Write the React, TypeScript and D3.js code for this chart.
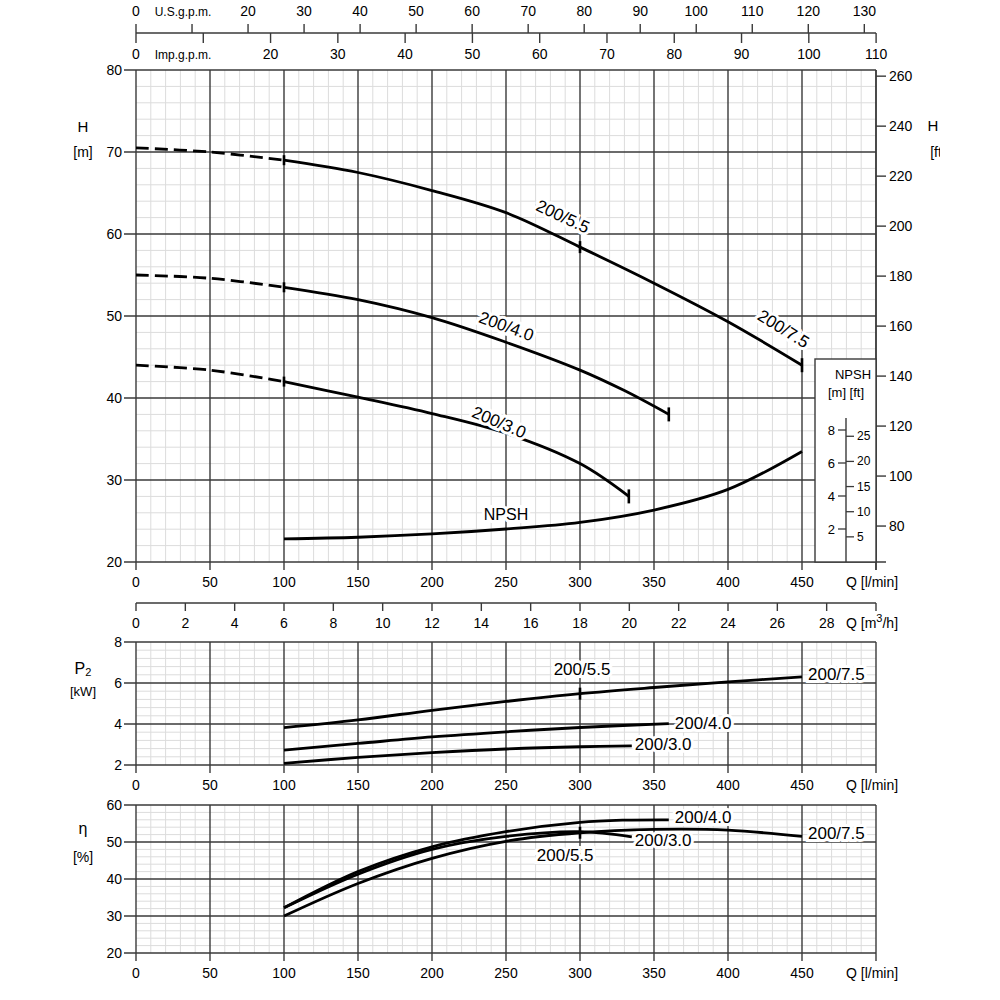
import React from "react";
import * as d3 from "d3";

// ---------- data ----------
const qTicks = [0, 50, 100, 150, 200, 250, 300, 350, 400, 450];
const usTicks = [0, 20, 30, 40, 50, 60, 70, 80, 90, 100, 110, 120, 130];
const impTicks = [0, 20, 30, 40, 50, 60, 70, 80, 90, 100, 110];
const m3hTicks = [0, 2, 4, 6, 8, 10, 12, 14, 16, 18, 20, 22, 24, 26, 28];
const hTicks = [20, 30, 40, 50, 60, 70, 80];
const ftTicks = [80, 100, 120, 140, 160, 180, 200, 220, 240, 260];
const npshMTicks = [2, 4, 6, 8];
const npshFtTicks = [5, 10, 15, 20, 25];
const p2Ticks = [2, 4, 6, 8];
const etaTicks = [20, 30, 40, 50, 60];

// Head curves (dashed part 0..100, solid part after)
const h55DashQ = [0, 50, 100];
const h55DashH = [70.5, 70.0, 69.0];
const h55Q = [100, 150, 200, 250, 300, 350, 400, 450];
const h55H = [69.0, 67.5, 65.3, 62.6, 58.4, 54.0, 49.3, 44.0];
const h40DashQ = [0, 50, 100];
const h40DashH = [55.0, 54.6, 53.5];
const h40Q = [100, 150, 200, 250, 300, 330, 360];
const h40H = [53.5, 52.0, 49.8, 46.8, 43.4, 40.9, 38.0];
const h30DashQ = [0, 50, 100];
const h30DashH = [44.0, 43.4, 42.0];
const h30Q = [100, 150, 200, 250, 300, 333];
const h30H = [42.0, 40.1, 38.1, 35.7, 32.0, 28.0];

// NPSH [m]
const npshQ = [100, 150, 200, 250, 300, 350, 400, 450];
const npshM = [1.4, 1.5, 1.7, 2.0, 2.4, 3.15, 4.4, 6.7];

// P2 [kW]
const p55Q = [100, 150, 200, 250, 300, 350, 400, 450];
const p55 = [3.82, 4.2, 4.67, 5.1, 5.48, 5.78, 6.05, 6.3];
const p40Q = [100, 150, 200, 250, 300, 360];
const p40 = [2.73, 3.05, 3.37, 3.62, 3.83, 4.02];
const p30Q = [100, 150, 200, 250, 300, 335];
const p30 = [2.08, 2.37, 2.6, 2.78, 2.89, 2.93];

// Efficiency [%]
const e55Q = [100, 150, 200, 250, 300, 350, 400, 450];
const e55 = [30, 38.8, 45.6, 50.2, 52.5, 53.4, 53.2, 51.5];
const e40Q = [100, 150, 200, 250, 300, 330, 360];
const e40 = [32.2, 42, 48.7, 52.8, 55.3, 55.9, 56];
const e30Q = [100, 150, 200, 250, 300, 335];
const e30 = [32.2, 41.3, 48, 51.5, 52.8, 51.4];

// ---------- scales ----------
const X0 = 136, X1 = 876;
const x = d3.scaleLinear().domain([0, 500]).range([X0, X1]);
const xUS = d3.scaleLinear().domain([0, 500 / 3.78541]).range([X0, X1]);
const xImp = d3.scaleLinear().domain([0, 500 / 4.54609]).range([X0, X1]);
const xM3 = d3.scaleLinear().domain([0, 30]).range([X0, X1]);
const yH = d3.scaleLinear().domain([20, 80]).range([562, 70]);
const yFt = d3.scaleLinear().domain([20 * 3.28084, 80 * 3.28084]).range([562, 70]);
const yNm = d3.scaleLinear().domain([0, 10]).range([562, 397]);
const yNft = d3.scaleLinear().domain([0, 10 * 3.28084]).range([562, 397]);
const yP = d3.scaleLinear().domain([2, 8]).range([765, 642]);
const yE = d3.scaleLinear().domain([20, 60]).range([953, 805]);

const FONT = "'Liberation Sans', Arial, sans-serif";
const MAJ = "#3a3a3a";
const MIN = "#dcdcdc";

function pts(qs: number[], vs: number[]) {
  return qs.map((q, i) => [q, vs[i]] as [number, number]);
}

function Curve({ qs, vs, y, dashed }: { qs: number[]; vs: number[]; y: any; dashed?: boolean }) {
  const line = d3
    .line<[number, number]>()
    .x((d) => x(d[0]))
    .y((d) => y(d[1]))
    .curve(d3.curveCatmullRom.alpha(0.5));
  return (
    <path
      d={line(pts(qs, vs)) || ""}
      fill="none"
      stroke="#000"
      strokeWidth={2.8}
      strokeDasharray={dashed ? "13 6" : undefined}
    />
  );
}

function Mark({ q, v, y, h = 7 }: { q: number; v: number; y: any; h?: number }) {
  return <line x1={x(q)} x2={x(q)} y1={y(v) - h} y2={y(v) + h} stroke="#000" strokeWidth={2.6} />;
}

function Grid({
  y,
  lo,
  hi,
  minorStep,
  majorStep,
  rightExtend = 0,
}: {
  y: any;
  lo: number;
  hi: number;
  minorStep: number;
  majorStep: number;
  rightExtend?: number;
}) {
  const top = y(hi);
  const bot = y(lo);
  const minorV = d3.range(10, 500, 10).filter((q) => q % 50 !== 0);
  const majorV = d3.range(0, 501, 50);
  const minorH: number[] = [];
  const nMinor = Math.round((hi - lo) / minorStep);
  for (let i = 1; i < nMinor; i++) {
    const v = lo + i * minorStep;
    if (Math.abs((v - lo) / majorStep - Math.round((v - lo) / majorStep)) > 1e-6) minorH.push(v);
  }
  const majorH = d3.range(lo, hi + majorStep / 2, majorStep);
  return (
    <g>
      {minorV.map((q) => (
        <line key={"mv" + q} x1={x(q)} x2={x(q)} y1={top} y2={bot} stroke={MIN} strokeWidth={1} />
      ))}
      {minorH.map((v) => (
        <line key={"mh" + v} x1={X0} x2={X1} y1={y(v)} y2={y(v)} stroke={MIN} strokeWidth={1} />
      ))}
      {majorH.map((v, i) => (
        <line
          key={"Mh" + v}
          x1={X0 - 12}
          x2={i === 0 ? X1 + rightExtend : X1}
          y1={y(v)}
          y2={y(v)}
          stroke={MAJ}
          strokeWidth={1.4}
        />
      ))}
      {majorV.map((q) => (
        <line key={"Mv" + q} x1={x(q)} x2={x(q)} y1={top} y2={bot + 8} stroke={MAJ} strokeWidth={1.4} />
      ))}
    </g>
  );
}

function YLabels({ y, ticks }: { y: any; ticks: number[] }) {
  return (
    <g fontFamily={FONT} fontSize={14} textAnchor="end">
      {ticks.map((t) => (
        <text key={t} x={X0 - 14} y={y(t) + 5}>
          {t}
        </text>
      ))}
    </g>
  );
}

function QLabels({ yPos }: { yPos: number }) {
  return (
    <g fontFamily={FONT} fontSize={14}>
      {qTicks.map((t) => (
        <text key={t} x={x(t)} y={yPos} textAnchor="middle">
          {t}
        </text>
      ))}
      <text x={X1 - 30} y={yPos}>
        Q [l/min]
      </text>
    </g>
  );
}

function Label({
  q,
  v,
  y,
  text,
  rot = 0,
  dx = 0,
  dy = 0,
  anchor = "middle",
  size = 17,
}: {
  q: number;
  v: number;
  y: any;
  text: string;
  rot?: number;
  dx?: number;
  dy?: number;
  anchor?: string;
  size?: number;
}) {
  const px = x(q) + dx;
  const py = y(v) + dy;
  return (
    <text
      x={px}
      y={py}
      transform={`rotate(${rot},${px},${py})`}
      fontFamily={FONT}
      fontSize={size}
      textAnchor={anchor as any}
      dominantBaseline="middle"
      stroke="#fff"
      strokeWidth={6}
      paintOrder="stroke"
      fill="#000"
    >
      {text}
    </text>
  );
}

export default function App() {
  return (
    <svg width={1000} height={1000} style={{ position: "absolute", left: 0, top: 0, background: "#fff" }}>
      <defs>
        <clipPath id="clipR">
          <rect x={0} y={0} width={940} height={1000} />
        </clipPath>
      </defs>
      <rect x={0} y={0} width={1000} height={1000} fill="#fff" />

      {/* ---------- top flow axes ---------- */}
      <g>
        <line x1={X0} x2={X1} y1={33} y2={33} stroke={MAJ} strokeWidth={1.4} />
        {[0, 10, ...usTicks.slice(1)].map((t) => (
          <line key={"us" + t} x1={xUS(t)} x2={xUS(t)} y1={24} y2={33} stroke={MAJ} strokeWidth={1.4} />
        ))}
        {[0, 10, ...impTicks.slice(1)].map((t) => (
          <line key={"im" + t} x1={xImp(t)} x2={xImp(t)} y1={33} y2={43} stroke={MAJ} strokeWidth={1.4} />
        ))}
        <g fontFamily={FONT} fontSize={14} textAnchor="middle">
          {usTicks.map((t) => (
            <text key={"ust" + t} x={xUS(t)} y={16}>
              {t}
            </text>
          ))}
          {impTicks.map((t) => (
            <text key={"imt" + t} x={xImp(t)} y={59}>
              {t}
            </text>
          ))}
          <text x={183} y={16} fontSize={12}>
            U.S.g.p.m.
          </text>
          <text x={183} y={59} fontSize={12}>
            Imp.g.p.m.
          </text>
        </g>
      </g>

      {/* ---------- main H panel ---------- */}
      <Grid y={yH} lo={20} hi={80} minorStep={2} majorStep={10} rightExtend={10} />
      {/* right ft axis */}
      <line x1={X1} x2={X1} y1={70} y2={570} stroke={MAJ} strokeWidth={1.4} />
      <g fontFamily={FONT} fontSize={14}>
        {ftTicks.map((t) => (
          <g key={"ft" + t}>
            <line x1={X1} x2={X1 + 10} y1={yFt(t)} y2={yFt(t)} stroke={MAJ} strokeWidth={1.4} />
            <text x={X1 + 13} y={yFt(t) + 5}>
              {t}
            </text>
          </g>
        ))}
      </g>
      <g clipPath="url(#clipR)" fontFamily={FONT} fontSize={15} textAnchor="middle">
        <text x={933} y={131}>
          H
        </text>
        <text x={938} y={157} fontSize={14}>
          [ft]
        </text>
      </g>
      <YLabels y={yH} ticks={hTicks} />
      <g fontFamily={FONT} fontSize={15} textAnchor="middle">
        <text x={83} y={132}>
          H
        </text>
        <text x={83} y={157} fontSize={14}>
          [m]
        </text>
      </g>
      <QLabels yPos={587} />

      {/* NPSH box */}
      <rect x={815} y={359} width={X1 - 815} height={562 - 359} fill="#fff" stroke={MAJ} strokeWidth={1.4} />
      <g fontFamily={FONT} fontSize={13}>
        <text x={853} y={379} textAnchor="middle">
          NPSH
        </text>
        <text x={846} y={397} textAnchor="middle">
          [m]  [ft]
        </text>
        <line x1={846} x2={846} y1={418} y2={562} stroke={MAJ} strokeWidth={1.4} />
        {npshMTicks.map((t) => (
          <g key={"nm" + t}>
            <line x1={838} x2={846} y1={yNm(t)} y2={yNm(t)} stroke={MAJ} strokeWidth={1.3} />
            <text x={835} y={yNm(t) + 5} textAnchor="end">
              {t}
            </text>
          </g>
        ))}
        {npshFtTicks.map((t) => (
          <g key={"nf" + t} fontSize={12}>
            <line x1={846} x2={854} y1={yNft(t)} y2={yNft(t)} stroke={MAJ} strokeWidth={1.3} />
            <text x={857} y={yNft(t) + 4}>
              {t}
            </text>
          </g>
        ))}
      </g>

      {/* H curves */}
      <Curve qs={h55DashQ} vs={h55DashH} y={yH} dashed />
      <Curve qs={h40DashQ} vs={h40DashH} y={yH} dashed />
      <Curve qs={h30DashQ} vs={h30DashH} y={yH} dashed />
      <Curve qs={h55Q} vs={h55H} y={yH} />
      <Curve qs={h40Q} vs={h40H} y={yH} />
      <Curve qs={h30Q} vs={h30H} y={yH} />
      <Curve qs={npshQ} vs={npshM} y={yNm} />
      <Mark q={h55Q[0]} v={h55H[0]} y={yH} h={5} />
      <Mark q={h40Q[0]} v={h40H[0]} y={yH} h={5} />
      <Mark q={h30Q[0]} v={h30H[0]} y={yH} h={5} />
      <Mark q={300} v={h55H[4]} y={yH} h={6} />
      <Mark q={h55Q[h55Q.length - 1]} v={h55H[h55H.length - 1]} y={yH} />
      <Mark q={h40Q[h40Q.length - 1]} v={h40H[h40H.length - 1]} y={yH} />
      <Mark q={h30Q[h30Q.length - 1]} v={h30H[h30H.length - 1]} y={yH} />
      <Label q={288} v={62} y={yH} text="200/5.5" rot={25} />
      <Label q={437} v={48.3} y={yH} text="200/7.5" rot={32} />
      <Label q={250} v={48.6} y={yH} text="200/4.0" rot={20} />
      <Label q={245} v={36.9} y={yH} text="200/3.0" rot={23} />
      <Label q={250} v={2.8} y={yNm} text="NPSH" size={16} />

      {/* m3/h axis */}
      <line x1={X0} x2={X1} y1={603} y2={603} stroke={MAJ} strokeWidth={1.4} />
      {[...m3hTicks, 30].map((t) => (
        <line key={"m3" + t} x1={xM3(t)} x2={xM3(t)} y1={603} y2={611} stroke={MAJ} strokeWidth={1.4} />
      ))}
      <g fontFamily={FONT} fontSize={14} textAnchor="middle">
        {m3hTicks.map((t) => (
          <text key={"m3t" + t} x={xM3(t)} y={628}>
            {t}
          </text>
        ))}
      </g>
      <text x={X1 - 30} y={628} fontFamily={FONT} fontSize={14}>
        Q [m<tspan dy={-6} fontSize={11}>3</tspan>
        <tspan dy={6}>/h]</tspan>
      </text>

      {/* ---------- P2 panel ---------- */}
      <Grid y={yP} lo={2} hi={8} minorStep={0.4} majorStep={2} />
      <YLabels y={yP} ticks={p2Ticks} />
      <g fontFamily={FONT} textAnchor="middle">
        <text x={83} y={674} fontSize={16}>
          P<tspan fontSize={11} dy={2}>2</tspan>
        </text>
        <text x={83} y={696} fontSize={13}>
          [kW]
        </text>
      </g>
      <QLabels yPos={790} />
      <Curve qs={p55Q} vs={p55} y={yP} />
      <Curve qs={p40Q} vs={p40} y={yP} />
      <Curve qs={p30Q} vs={p30} y={yP} />
      <Mark q={300} v={p55[4]} y={yP} h={6} />
      <Label q={300} v={6.5} y={yP} text="200/5.5" dx={2} dy={-2} />
      <Label q={450} v={6.3} y={yP} text="200/7.5" anchor="start" dx={6} dy={-1} />
      <Label q={360} v={4.02} y={yP} text="200/4.0" anchor="start" dx={6} dy={1} />
      <Label q={335} v={2.93} y={yP} text="200/3.0" anchor="start" dx={3} dy={0} />

      {/* ---------- eta panel ---------- */}
      <Grid y={yE} lo={20} hi={60} minorStep={2} majorStep={10} />
      <YLabels y={yE} ticks={etaTicks} />
      <g fontFamily={FONT} textAnchor="middle">
        <text x={83} y={834} fontSize={16}>
          η
        </text>
        <text x={83} y={862} fontSize={14}>
          [%]
        </text>
      </g>
      <QLabels yPos={978} />
      <Curve qs={e55Q} vs={e55} y={yE} />
      <Curve qs={e40Q} vs={e40} y={yE} />
      <Curve qs={e30Q} vs={e30} y={yE} />
      <Mark q={300} v={e55[4]} y={yE} h={6} />
      <Label q={360} v={e40[e40.length - 1]} y={yE} text="200/4.0" anchor="start" dx={6} dy={-1} />
      <Label q={450} v={e55[e55.length - 1]} y={yE} text="200/7.5" anchor="start" dx={6} dy={-2} />
      <Label q={335} v={e30[e30.length - 1]} y={yE} text="200/3.0" anchor="start" dx={3} dy={5} />
      <Label q={290} v={46.2} y={yE} text="200/5.5" />
    </svg>
  );
}
